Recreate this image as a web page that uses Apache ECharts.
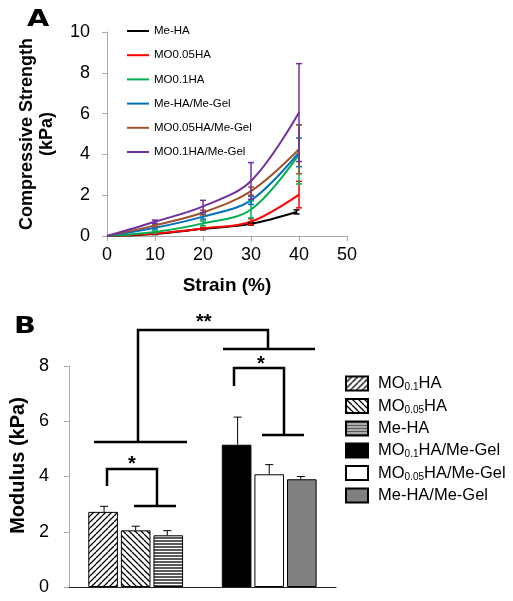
<!DOCTYPE html>
<html><head><meta charset="utf-8">
<script src="https://cdn.jsdelivr.net/npm/echarts@6/dist/echarts.min.js"></script>
<style>html,body{margin:0;padding:0;background:#fff}#c{width:513px;height:601px}</style>
</head><body><div id="c"></div>
<script>
// ---- Panel A data ----
const strainX = [0, 10, 20, 30, 40];
const meHAStrainX = [0, 10, 20, 30, 39.5];
const meHA = [0, 0.1, 0.35, 0.6, 1.18];
const meHAErr = [0, 0.03, 0.05, 0.06, 0.1];
const mo005HA = [0, 0.12, 0.37, 0.7, 2.03];
const mo005HAErr = [0, 0.03, 0.05, 0.15, 0.65];
const mo01HA = [0, 0.2, 0.62, 1.3, 4.0];
const mo01HAErr = [0, 0.05, 0.12, 0.42, 1.45];
const meHAGel = [0, 0.4, 0.95, 1.75, 4.1];
const meHAGelErr = [0, 0.06, 0.12, 0.2, 0.7];
const mo005HAGel = [0, 0.52, 1.15, 2.2, 4.25];
const mo005HAGelErr = [0, 0.06, 0.12, 0.2, 1.2];
const mo01HAGel = [0, 0.7, 1.45, 2.7, 6.05];
const mo01HAGelErr = [0, 0.08, 0.3, 0.9, 2.4];
const lineNames = ['Me-HA', 'MO0.05HA', 'MO0.1HA', 'Me-HA/Me-Gel', 'MO0.05HA/Me-Gel', 'MO0.1HA/Me-Gel'];
const strainTicks = [0, 10, 20, 30, 40, 50];

// ---- Panel B data ----
const groups = ['HA', 'HA/Me-Gel'];
const barNames = ['MO0.1HA', 'MO0.05HA', 'Me-HA', 'MO0.1HA/Me-Gel', 'MO0.05HA/Me-Gel', 'Me-HA/Me-Gel'];
const haModulus = [2.72, 2.05, 1.87];
const haModulusErr = [0.2, 0.15, 0.17];
const gelModulus = [5.15, 4.08, 3.9];
const gelModulusErr = [1.0, 0.35, 0.1];

const B_PREFIX = 'B:';

function hatch(kind) {
  const c = document.createElement('canvas');
  const s = kind === 'h' ? 3 : 6;
  c.width = s; c.height = s;
  const g = c.getContext('2d');
  g.fillStyle = '#fff'; g.fillRect(0, 0, s, s);
  g.strokeStyle = '#000'; g.lineWidth = 1.3;
  g.beginPath();
  if (kind === 'h') { g.moveTo(0, 1); g.lineTo(s, 1); }
  else if (kind === 'f') { for (let k = -1; k <= 1; k++) { g.moveTo(k * s, s); g.lineTo(k * s + s, 0); } }
  else { for (let k = -1; k <= 1; k++) { g.moveTo(k * s, 0); g.lineTo(k * s + s, s); } }
  g.stroke();
  return { image: c, repeat: 'repeat' };
}

const lineColors = ['#000000', '#ff0000', '#00b050', '#0070c0', '#a0522d', '#7030a0'];
const lineY = [meHA, mo005HA, mo01HA, meHAGel, mo005HAGel, mo01HAGel];
const lineE = [meHAErr, mo005HAErr, mo01HAErr, meHAGelErr, mo005HAGelErr, mo01HAGelErr];
const lineX = [meHAStrainX, strainX, strainX, strainX, strainX, strainX];

const series = [];
lineNames.forEach((n, i) => {
  series.push({
    name: n, type: 'line', xAxisIndex: 0, yAxisIndex: 0, smooth: 0.35, symbol: 'none',
    lineStyle: { color: lineColors[i], width: 2 }, itemStyle: { color: lineColors[i] },
    data: lineX[i].map((x, k) => [x, lineY[i][k]]), z: 3
  });
  series.push({
    name: n + ' err', type: 'custom', xAxisIndex: 0, yAxisIndex: 0, z: 4,
    data: lineX[i].map((x, k) => [x, lineY[i][k], lineE[i][k]]).filter(d => d[2] > 0),
    renderItem: function (params, api) {
      const x = api.value(0), y = api.value(1), e = api.value(2);
      const hi = api.coord([x, y + e]), lo = api.coord([x, Math.max(0, y - e)]);
      const w = 3;
      const st = { stroke: lineColors[i], lineWidth: 1.5 };
      return { type: 'group', children: [
        { type: 'line', shape: { x1: hi[0], y1: hi[1], x2: lo[0], y2: lo[1] }, style: st },
        { type: 'line', shape: { x1: hi[0] - w, y1: hi[1], x2: hi[0] + w, y2: hi[1] }, style: st },
        { type: 'line', shape: { x1: lo[0] - w, y1: lo[1], x2: lo[0] + w, y2: lo[1] }, style: st }
      ]};
    }
  });
});

const barFills = [hatch('f'), hatch('b'), hatch('h'), '#000000', '#ffffff', '#808080'];
const CAT_GAP = 0.29;
barNames.forEach((n, i) => {
  const slot = i % 3;
  const isGel = i >= 3;
  const v = isGel ? gelModulus[slot] : haModulus[slot];
  series.push({
    name: B_PREFIX + n, type: 'bar', xAxisIndex: 1, yAxisIndex: 1, stack: 's' + slot,
    barCategoryGap: (CAT_GAP * 100) + '%',
    itemStyle: { color: barFills[i], borderColor: '#000', borderWidth: 1 },
    data: isGel ? ['-', v] : [v, '-']
  });
});
const barErrData = [];
haModulus.forEach((v, k) => barErrData.push([0, v, haModulusErr[k], k]));
gelModulus.forEach((v, k) => barErrData.push([1, v, gelModulusErr[k], k]));
series.push({
  name: 'bar err', type: 'custom', xAxisIndex: 1, yAxisIndex: 1, z: 5, data: barErrData,
  renderItem: function (params, api) {
    const c = api.value(0), v = api.value(1), e = api.value(2), s = api.value(3);
    const bw = api.size([1, 0])[0] * (1 - CAT_GAP) / 3;
    const base = api.coord([c, v]), top = api.coord([c, v + e]);
    const x = base[0] + (s - 1) * bw;
    const st = { stroke: '#000', lineWidth: 1 };
    return { type: 'group', children: [
      { type: 'line', shape: { x1: x, y1: base[1], x2: x, y2: top[1] }, style: st },
      { type: 'line', shape: { x1: x - 4, y1: top[1], x2: x + 4, y2: top[1] }, style: st }
    ]};
  }
});

const subFmt = function (full) {
  const name = full.slice(B_PREFIX.length);
  const m = name.match(/^MO(0\.1|0\.05)(.*)$/);
  if (m) return '{n|MO}{s|' + m[1] + '}{n|' + m[2] + '}';
  return '{n|' + name + '}';
};

const font = 'Liberation Sans, Arial, sans-serif';
const heavy = '"DejaVu Sans", sans-serif';
const bracket = { stroke: '#000', lineWidth: 2.5 };
const chart = echarts.init(document.getElementById('c'), null, { renderer: 'canvas' });
chart.setOption({
  animation: false,
  textStyle: { fontFamily: font },
  grid: [
    { left: 107, top: 32, width: 240, height: 204 },
    { left: 68, top: 366, width: 268, height: 221 }
  ],
  xAxis: [
    { type: 'value', gridIndex: 0, min: 0, max: 50, interval: 10,
      name: 'Strain (%)', nameLocation: 'middle', nameGap: 40,
      nameTextStyle: { fontSize: 19, fontWeight: 'bold', color: '#000' },
      axisLine: { lineStyle: { color: '#aaa' } }, axisTick: { show: true, length: 5, lineStyle: { color: '#aaa' } },
      axisLabel: { fontSize: 18, color: '#000', margin: 10, formatter: v => strainTicks.includes(v) ? String(v) : '' },
      splitLine: { show: false } },
    { type: 'category', gridIndex: 1, data: groups,
      axisLine: { lineStyle: { color: '#222', width: 1.2 } }, axisTick: { show: false }, axisLabel: { show: false } }
  ],
  yAxis: [
    { type: 'value', gridIndex: 0, min: 0, max: 10, interval: 2,
      name: 'Compressive Strength\n(kPa)', nameLocation: 'middle', nameGap: 50,
      nameTextStyle: { fontSize: 18, fontWeight: 'bold', color: '#000', lineHeight: 20 },
      axisLine: { show: true, lineStyle: { color: '#aaa' } }, axisTick: { show: true, length: 5, lineStyle: { color: '#aaa' } },
      axisLabel: { fontSize: 18, color: '#000', margin: 17 }, splitLine: { show: false } },
    { type: 'value', gridIndex: 1, min: 0, max: 8, interval: 2,
      name: 'Modulus (kPa)', nameLocation: 'middle', nameGap: 40,
      nameTextStyle: { fontSize: 20, fontWeight: 'bold', color: '#000', padding: [0, 0, 0, 22] },
      axisLine: { show: true, lineStyle: { color: '#aaa' } }, axisTick: { show: true, length: 5, lineStyle: { color: '#aaa' } },
      axisLabel: { fontSize: 18, color: '#000', margin: 20 }, splitLine: { show: false } }
  ],
  legend: [
    { data: lineNames.map(n => ({ name: n, icon: 'rect' })), orient: 'vertical', left: 122, top: 20,
      itemWidth: 22, itemHeight: 2, itemGap: 12.2, textStyle: { fontSize: 11.5, color: '#000', fontFamily: font } },
    { data: barNames.map(n => ({ name: B_PREFIX + n, icon: 'rect' })), orient: 'vertical', left: 340, top: 370,
      itemWidth: 22, itemHeight: 14, itemGap: 5, formatter: subFmt,
      textStyle: { fontSize: 16, color: '#000', fontFamily: font, padding: [0, 0, 0, 5],
        rich: { n: { fontSize: 16.5, fontFamily: font, color: '#000' },
                s: { fontSize: 10, fontFamily: font, color: '#000', verticalAlign: 'bottom', padding: [8, 0, 0, 0] } } } }
  ],
  graphic: [
    { type: 'text', left: 27, top: 9, style: { text: 'A', font: '900 23px ' + heavy, fill: '#000' }, scaleX: 1.25 },
    { type: 'text', left: 14, top: 316, style: { text: 'B', font: '900 23px ' + heavy, fill: '#000' }, scaleX: 1.25 },
    { type: 'text', left: 196, top: 312, style: { text: '**', font: 'bold 20px ' + font, fill: '#000' } },
    { type: 'text', left: 257, top: 354, style: { text: '*', font: 'bold 20px ' + font, fill: '#000' } },
    { type: 'text', left: 128, top: 454, style: { text: '*', font: 'bold 20px ' + font, fill: '#000' } },
    { type: 'polyline', shape: { points: [[138, 442], [138, 330], [268, 330], [268, 349]] }, style: bracket },
    { type: 'line', shape: { x1: 223, y1: 349, x2: 315, y2: 349 }, style: bracket },
    { type: 'line', shape: { x1: 94, y1: 442, x2: 187, y2: 442 }, style: bracket },
    { type: 'polyline', shape: { points: [[234, 386], [234, 368], [284, 368], [284, 435]] }, style: bracket },
    { type: 'line', shape: { x1: 262, y1: 435, x2: 304, y2: 435 }, style: bracket },
    { type: 'polyline', shape: { points: [[107, 486], [107, 469], [157, 469], [157, 506]] }, style: bracket },
    { type: 'line', shape: { x1: 134, y1: 506, x2: 176, y2: 506 }, style: bracket }
  ],
  series: series
});
</script></body></html>
